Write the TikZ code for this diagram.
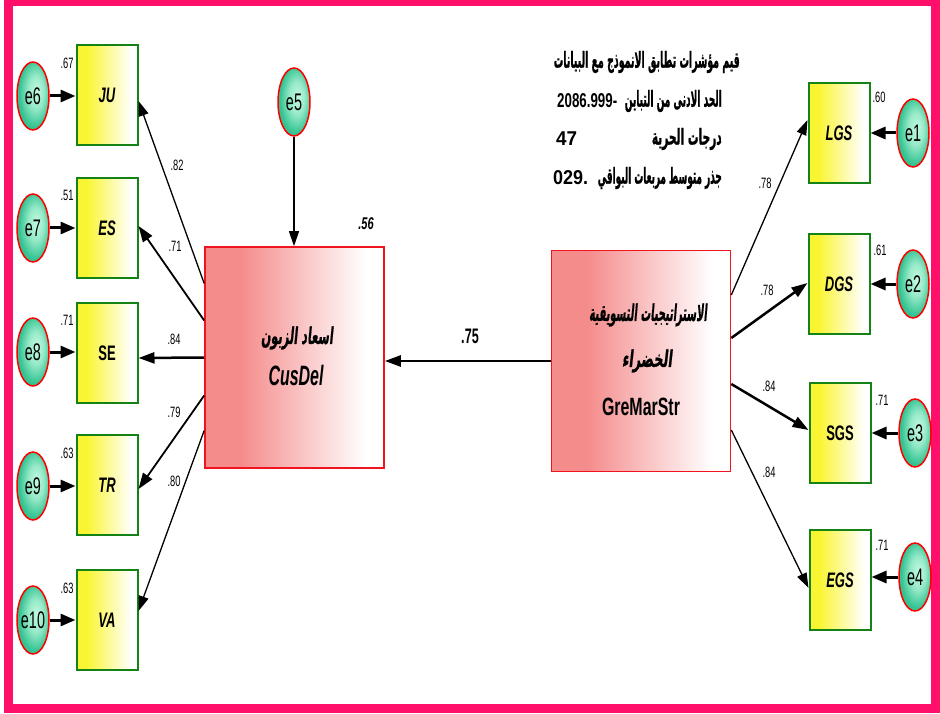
\documentclass[tikz,border=0pt]{standalone}
\usepackage{fontspec}
\usepackage{graphicx}
\setmainfont{Liberation Sans}
\newfontfamily\arabicfont[Script=Arabic,FakeBold=1.2]{DejaVu Sans}
\newfontfamily\arabicslant[Script=Arabic,FakeSlant=0.2,FakeBold=1]{DejaVu Sans}
\TeXXeTstate=1
\usetikzlibrary{arrows.meta,shapes.geometric}
\definecolor{framecol}{RGB}{255,15,105}
\definecolor{indgreen}{RGB}{20,130,20}
\definecolor{indyellow}{RGB}{250,245,50}
\definecolor{errdark}{RGB}{50,195,145}
\definecolor{errlight}{RGB}{195,250,225}
\definecolor{latred}{RGB}{245,140,140}
\definecolor{latline}{RGB}{240,20,30}
\pgfdeclarehorizontalshading{yfade}{100bp}{color(0bp)=(indyellow); color(25bp)=(indyellow); color(33bp)=(indyellow); color(70bp)=(white); color(100bp)=(white)}
\pgfdeclareradialshading{gfade}{\pgfpoint{6bp}{4bp}}{color(0bp)=(errlight); color(12bp)=(errlight!70!errdark); color(25bp)=(errdark); color(50bp)=(errdark)}
\pgfdeclarehorizontalshading{rfade}{100bp}{color(0bp)=(latred); color(25bp)=(latred); color(35bp)=(latred); color(70bp)=(white); color(100bp)=(white)}
\newcommand\sq[2][0.62]{\scalebox{#1}[1]{#2}}
\newcommand\fitw[2]{\resizebox{#1}{\height}{#2}}
\newcommand\arb[1]{\arabicfont\bfseries\fontsize{22}{22}\selectfont\beginR #1\endR}
\newcommand\arbs[1]{\arabicslant\bfseries\fontsize{23}{23}\selectfont\beginR #1\endR}
\begin{document}
\begin{tikzpicture}[x=1pt,y=-1pt,
  ind/.style={draw=indgreen, line width=2pt, shade, shading=yfade, minimum width=61pt, minimum height=100pt, inner sep=0pt},
  err/.style={ellipse, draw=red, line width=1.5pt, shade, shading=gfade, minimum width=32pt, minimum height=68pt, inner sep=0pt},
  lat/.style={draw=latline, line width=1.6pt, shade, shading=rfade, minimum width=179pt, minimum height=221pt, inner sep=0pt},
  indtxt/.style={font=\fontsize{21}{21}\selectfont\bfseries\itshape, inner sep=0pt},
  errtxt/.style={font=\fontsize{24}{24}\selectfont, inner sep=0pt},
  num/.style={font=\fontsize{15}{15}\selectfont, inner sep=0pt},
  plain/.style={inner sep=0pt},
  thinarr/.style={-{Triangle[length=15pt,width=10pt]}, line width=1.3pt},
  medarr/.style={-{Triangle[length=16pt,width=11pt]}, line width=2.2pt},
  erarr/.style={-{Triangle[length=15pt,width=12pt]}, line width=3pt}
]
\useasboundingbox (0,0) rectangle (940,714);
\fill[white] (0,0) rectangle (940,714);
\draw[framecol, line width=9pt] (8,2) rectangle (935,708);

% latent variables
\node[lat] (cus) at (294.5,357.5) {};
\node[lat] (gre) at (641,361) {};
\node[plain] (cusA) at (297,338) {\fitw{72pt}{\arbs{اسعاد الزبون}}};
\node[plain] (cusB) at (296,375) {\fitw{55pt}{\fontsize{28}{28}\selectfont\bfseries\itshape CusDel}};
\node[plain] (greA) at (648,315) {\fitw{118pt}{\arbs{الاستراتيجيات التسويقية}}};
\node[plain] (greB) at (647,361) {\fitw{50pt}{\arbs{الخضراء}}};
\node[plain] (greC) at (641,407) {\fitw{78pt}{\fontsize{25}{25}\selectfont\bfseries GreMarStr}};

% left indicators
\node[ind] (JU) at (107,95) {};
\node[ind] (ES) at (107,228) {};
\node[ind] (SE) at (107,353) {};
\node[ind] (TR) at (107,485) {};
\node[ind] (VA) at (107,620) {};
\node[indtxt] (tJU) at (JU) {\sq{JU}};
\node[indtxt] (tES) at (ES) {\sq{ES}};
\node[indtxt,font=\fontsize{21}{21}\selectfont\bfseries] (tSE) at (SE) {\sq{SE}};
\node[indtxt] (tTR) at (TR) {\sq{TR}};
\node[indtxt] (tVA) at (VA) {\sq{VA}};

% left errors
\node[err] (e6) at (33,96) {};
\node[err] (e7) at (33,228) {};
\node[err] (e8) at (33,352) {};
\node[err] (e9) at (33,486) {};
\node[err] (e10) at (33,620) {};
\foreach \n in {6,7,8,9,10}{\node[errtxt] (te\n) at (e\n) {\sq[0.6]{e\n}};}

% right indicators
\node[ind] (LGS) at (839,133) {};
\node[ind] (DGS) at (839,284) {};
\node[ind] (SGS) at (840,433) {};
\node[ind] (EGS) at (840,580) {};
\node[indtxt] (tLGS) at (LGS) {\sq{LGS}};
\node[indtxt] (tDGS) at (DGS) {\sq{DGS}};
\node[indtxt,font=\fontsize{21}{21}\selectfont\bfseries] (tSGS) at (SGS) {\sq{SGS}};
\node[indtxt] (tEGS) at (EGS) {\sq{EGS}};

% right errors
\node[err] (e1) at (913,133) {};
\node[err] (e2) at (913,284) {};
\node[err] (e3) at (915,433) {};
\node[err] (e4) at (915,577) {};
\foreach \n in {1,2,3,4}{\node[errtxt] (te\n) at (e\n) {\sq[0.6]{e\n}};}

% e5
\node[err] (e5) at (294,102) {};
\node[errtxt] (te5) at (e5) {\sq[0.6]{e5}};

% error arrows
\draw[erarr] (e6.east) -- (e6.east -| JU.west);
\draw[erarr] (e7.east) -- (e7.east -| ES.west);
\draw[erarr] (e8.east) -- (e8.east -| SE.west);
\draw[erarr] (e9.east) -- (e9.east -| TR.west);
\draw[erarr] (e10.east) -- (e10.east -| VA.west);
\draw[erarr] (e1.west) -- (e1.west -| LGS.east);
\draw[erarr] (e2.west) -- (e2.west -| DGS.east);
\draw[erarr] (e3.west) -- (e3.west -| SGS.east);
\draw[erarr] (e4.west) -- (e4.west -| EGS.east);
\draw[thinarr] (e5.south) -- (e5.south |- cus.north);

% structural path
\draw[medarr, line width=2.5pt] (gre.west) -- (cus.east |- gre.west);

% loadings left
\draw[thinarr] ([yshift=74pt]cus.west) -- ([yshift=-6pt]JU.east);
\draw[medarr, line width=1.8pt] ([yshift=37pt]cus.west) -- ([yshift=2pt]ES.east);
\draw[medarr, line width=2.5pt] (cus.west) -- ([yshift=-5pt]SE.east);
\draw[medarr, line width=1.8pt] ([yshift=-38pt]cus.west) -- ([yshift=-4pt]TR.east);
\draw[thinarr] ([yshift=-73pt]cus.west) -- ([yshift=9pt]VA.east);

% loadings right
\draw[thinarr] ([yshift=66pt]gre.east) -- ([yshift=13pt]LGS.west);
\draw[medarr, line width=2.5pt] ([yshift=23pt]gre.east) -- ([yshift=1pt]DGS.west);
\draw[medarr, line width=2.5pt] ([yshift=-23pt]gre.east) -- ([yshift=3pt]SGS.west);
\draw[thinarr] ([yshift=-69pt]gre.east) -- ([yshift=-8pt]EGS.west);

% squared multiple correlations
\node[num] (r6) at (67,63) {\sq{.67}};
\node[num] (r7) at (67,195) {\sq{.51}};
\node[num] (r8) at (67,320) {\sq{.71}};
\node[num] (r9) at (67,453) {\sq{.63}};
\node[num] (r10) at (67,588) {\sq{.63}};
\node[num] (r1) at (879,97) {\sq{.60}};
\node[num] (r2) at (880,250) {\sq{.61}};
\node[num] (r3) at (882,400) {\sq{.71}};
\node[num] (r4) at (882,545) {\sq{.71}};

% loading labels
\node[num] (lJU) at (177,165) {\sq{.82}};
\node[num] (lES) at (175,246) {\sq{.71}};
\node[num] (lSE) at (174,339) {\sq{.84}};
\node[num] (lTR) at (174,412) {\sq{.79}};
\node[num] (lVA) at (174,481) {\sq{.80}};
\node[num] (lLGS) at (765,183) {\sq{.78}};
\node[num] (lDGS) at (767,290) {\sq{.78}};
\node[num] (lSGS) at (769,386) {\sq{.84}};
\node[num] (lEGS) at (769,472) {\sq{.84}};

\node[plain,font=\fontsize{17}{17}\selectfont\bfseries\itshape] (r5) at (366,224) {\sq[0.65]{.56}};
\node[plain,font=\fontsize{21}{21}\selectfont\bfseries] (lgc) at (470,336) {\sq[0.6]{.75}};

% fit indices
\node[plain,anchor=east] (t1) at (740,62) {\fitw{186pt}{\arb{قيم مؤشرات تطابق الانموذج مع البيانات}}};
\node[plain,anchor=east] (t2a) at (722,101) {\fitw{97pt}{\arb{الحد الادنى من التباين}}};
\node[plain,anchor=west] (t2b) at (557,101) {\fitw{60pt}{\fontsize{20}{20}\selectfont\bfseries 2086.999-}};
\node[plain,anchor=east] (t3a) at (722,139) {\fitw{70pt}{\arb{درجات الحرية}}};
\node[plain,anchor=west] (t3b) at (556,139) {\fitw{21pt}{\fontsize{20}{20}\selectfont\bfseries 47}};
\node[plain,anchor=east] (t4a) at (722,178) {\fitw{124pt}{\arb{جذر متوسط مربعات البواقي}}};
\node[plain,anchor=west] (t4b) at (553,178) {\fitw{35pt}{\fontsize{20}{20}\selectfont\bfseries 029.}};
\end{tikzpicture}
\end{document}
